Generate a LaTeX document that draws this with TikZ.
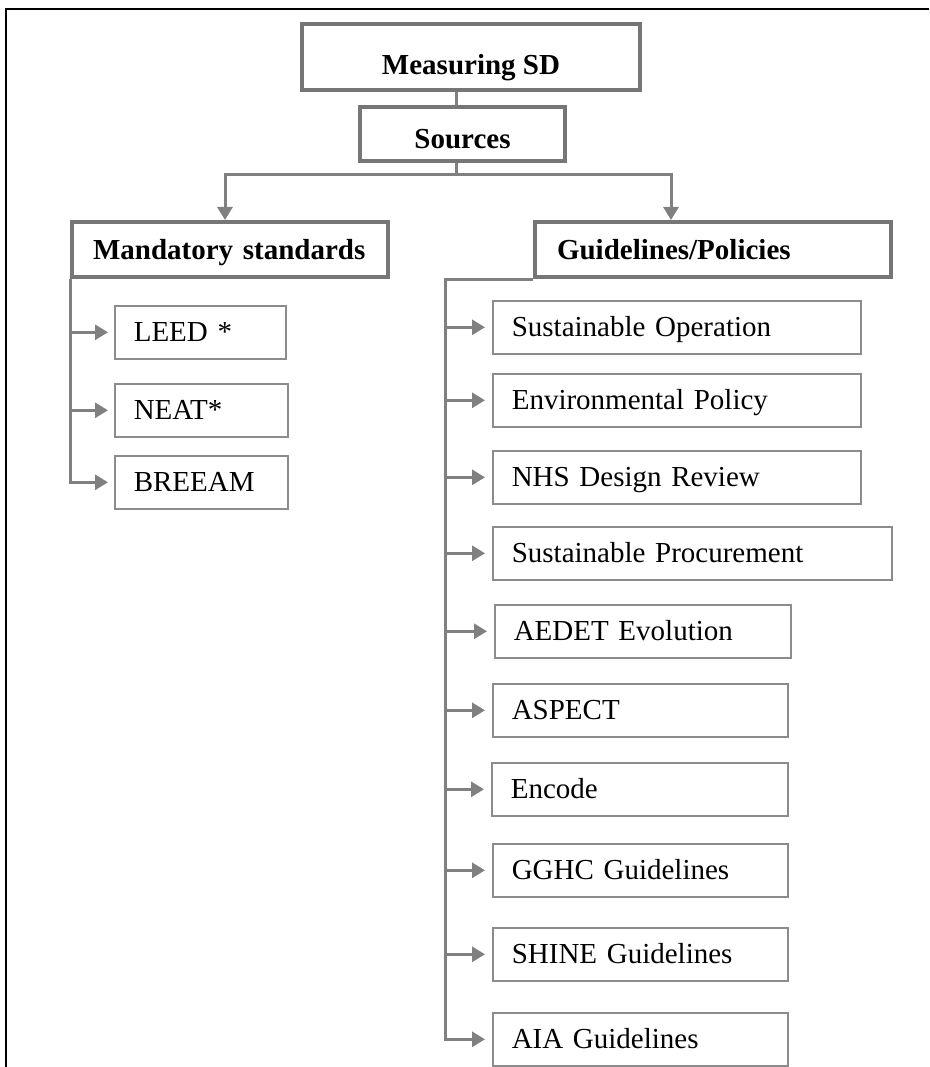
\documentclass[tikz,border=0pt]{standalone}
\usepackage{fontspec}
\setmainfont{Liberation Serif}
\usepackage{tikz}
\usetikzlibrary{arrows.meta}

\definecolor{linegray}{RGB}{128,128,128}
\definecolor{boxgray}{RGB}{118,118,118}
\definecolor{thingray}{RGB}{140,140,140}

\begin{document}
\begin{tikzpicture}[x=1pt, y=-1pt,
		headbox/.style={draw=boxgray, line width=4pt, font=\fontsize{29}{34}\selectfont\bfseries, inner ysep=0pt, text depth=0pt, anchor=north west},
		leafbox/.style={draw=thingray, line width=1.6pt, font=\fontsize{29}{34}\selectfont, inner xsep=19pt, inner ysep=0pt, text height=19pt, text depth=0pt, align=left, minimum height=53pt, anchor=north west},
		conn/.style={draw=linegray, line width=3pt},
		arr/.style={conn, -{Triangle[length=13pt,width=15pt]}}]
			\useasboundingbox (0, 0) rectangle (929, 1067);
			\draw[line width=2.5pt] (929, 9) -- (6, 9) -- (6, 1067);

			\node[headbox, minimum width=338pt, minimum height=66pt, text height=35pt] (meas) at (300, 22) {Measuring SD};
			\node[headbox, minimum width=205pt, minimum height=54pt, text height=29pt] (src) at (358, 105) {Sources};
			\node[headbox, inner xsep=21pt, text width=274pt, minimum height=55pt, text height=19pt, align=left] (mand) at (70, 220) {Mandatory standards};
			\node[headbox, inner xsep=22pt, text width=312pt, minimum height=55pt, text height=19pt, align=left] (guide) at (533, 220) {Guidelines/Policies};

			\node[leafbox, text width=133pt] (leed) at (114, 305) {LEED *};
			\node[leafbox, text width=135pt] (neat) at (114, 383) {NEAT*};
			\node[leafbox, text width=135pt] (breeam) at (114, 455) {BREEAM};

			\node[leafbox, text width=330pt] (sustop) at (492, 300) {Sustainable Operation};
			\node[leafbox, text width=330pt] (envpol) at (492, 373) {Environmental Policy};
			\node[leafbox, text width=330pt] (nhs) at (492, 450) {NHS Design Review};
			\node[leafbox, text width=361pt] (sustproc) at (492, 526) {Sustainable Procurement};
			\node[leafbox, text width=258pt] (aedet) at (494, 604) {AEDET Evolution};
			\node[leafbox, text width=257pt] (aspect) at (492, 683) {ASPECT};
			\node[leafbox, text width=258pt] (encode) at (491, 762) {Encode};
			\node[leafbox, text width=257pt] (gghc) at (492, 843) {GGHC Guidelines};
			\node[leafbox, text width=257pt] (shine) at (492, 927) {SHINE Guidelines};
			\node[leafbox, text width=257pt] (aia) at (492, 1012) {AIA Guidelines};

			\coordinate (split) at (456, 175);
			\coordinate (rail) at ([xshift=-88pt]guide.south west);
			\draw[conn] (meas.south -| split) -- (src.north -| split);
			\draw[conn] (src.south -| split) -- (split);
			\draw[arr] (split) -| ([xshift=-5pt]mand.north);
			\draw[arr] (split) -| ([xshift=-42pt]guide.north);

			\draw[arr, shorten >=6pt] (mand.south west) |- (breeam.west);
			\foreach \leaf in {leed, neat}
				\draw[arr, shorten >=6pt] (mand.south west |- \leaf.west) -- (\leaf.west);

			\draw[arr, shorten >=7pt] (guide.south west) -- (rail) |- (aia.west);
			\foreach \leaf in {sustop, envpol, nhs, sustproc, aedet, aspect, encode, gghc, shine}
				\draw[arr, shorten >=7pt] (rail |- \leaf.west) -- (\leaf.west);
		\end{tikzpicture}
\end{document}
